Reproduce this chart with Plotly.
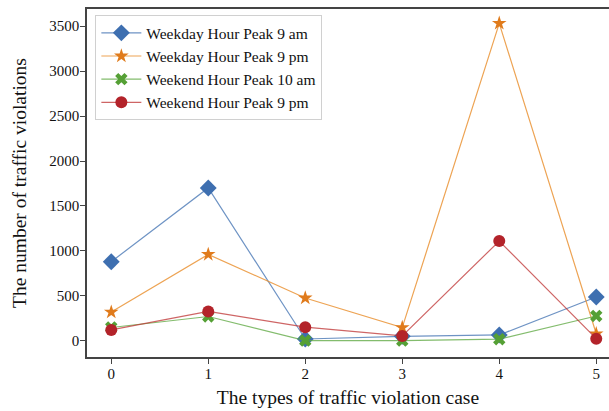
import plotly.graph_objects as go

cases = [0, 1, 2, 3, 4, 5]
weekday_9am = [881, 1700, 22, 52, 67, 489]
weekday_9pm = [321, 962, 478, 149, 3530, 80]
weekend_10am = [150, 272, 5, 5, 20, 278]
weekend_9pm = [123, 328, 153, 56, 1111, 26]

series = [
    ("Weekday Hour Peak 9 am", weekday_9am, "#3e6fb0", "rgba(62,111,176,0.75)", "diamond", 13),
    ("Weekday Hour Peak 9 pm", weekday_9pm, "#e07b1c", "rgba(232,140,40,0.8)", "star", 11),
    ("Weekend Hour Peak 10 am", weekend_10am, "#55a035", "rgba(90,165,60,0.75)", "x", 11),
    ("Weekend Hour Peak 9 pm", weekend_9pm, "#b3232a", "rgba(190,50,50,0.75)", "circle", 12),
]

fig = go.Figure()
for name, vals, mcol, lcol, sym, size in series:
    fig.add_trace(go.Scatter(
        x=cases, y=vals, name=name, mode="lines+markers",
        line=dict(color=lcol, width=1.2),
        marker=dict(symbol=sym, size=size, color=mcol, line=dict(width=0)),
    ))

font = "Liberation Serif"
tickfont = dict(family=font, size=15, color="#111111")
fig.update_layout(
    width=609, height=411,
    margin=dict(l=87, r=0, t=9, b=54),
    paper_bgcolor="white", plot_bgcolor="white",
    font=dict(family=font, size=15, color="#111111"),
    showlegend=True,
    legend=dict(
        x=0.016, y=0.982, xanchor="left", yanchor="top",
        bgcolor="rgba(255,255,255,0.9)", bordercolor="#d0d0d0", borderwidth=1,
        font=dict(family=font, size=15.5, color="#111111"),
        tracegroupgap=0, itemwidth=40,
    ),
)
fig.update_xaxes(
    range=[-0.25, -0.25 + 522 / 97], tickvals=cases, ticktext=[str(c) for c in cases],
    tickfont=tickfont, ticklabelstandoff=-3,
    showgrid=False, zeroline=False,
    showline=True, linecolor="#444", linewidth=1.5, mirror=True,
    ticks="outside", ticklen=5, tickwidth=1.2, tickcolor="#444",
    title=dict(text="The types of traffic violation case", font=dict(size=19.5, family=font, color="#111111"), standoff=10),
)
fig.update_yaxes(
    range=[-178, 3689], tickvals=[0, 500, 1000, 1500, 2000, 2500, 3000, 3500],
    tickfont=tickfont, ticklabelstandoff=-2,
    showgrid=False, zeroline=False,
    showline=True, linecolor="#444", linewidth=1.5, mirror=False,
    ticks="outside", ticklen=5, tickwidth=1.2, tickcolor="#444",
    title=dict(text="The number of traffic violations", font=dict(size=19.5, family=font, color="#111111"), standoff=17),
)

fig.write_html("out.html")
